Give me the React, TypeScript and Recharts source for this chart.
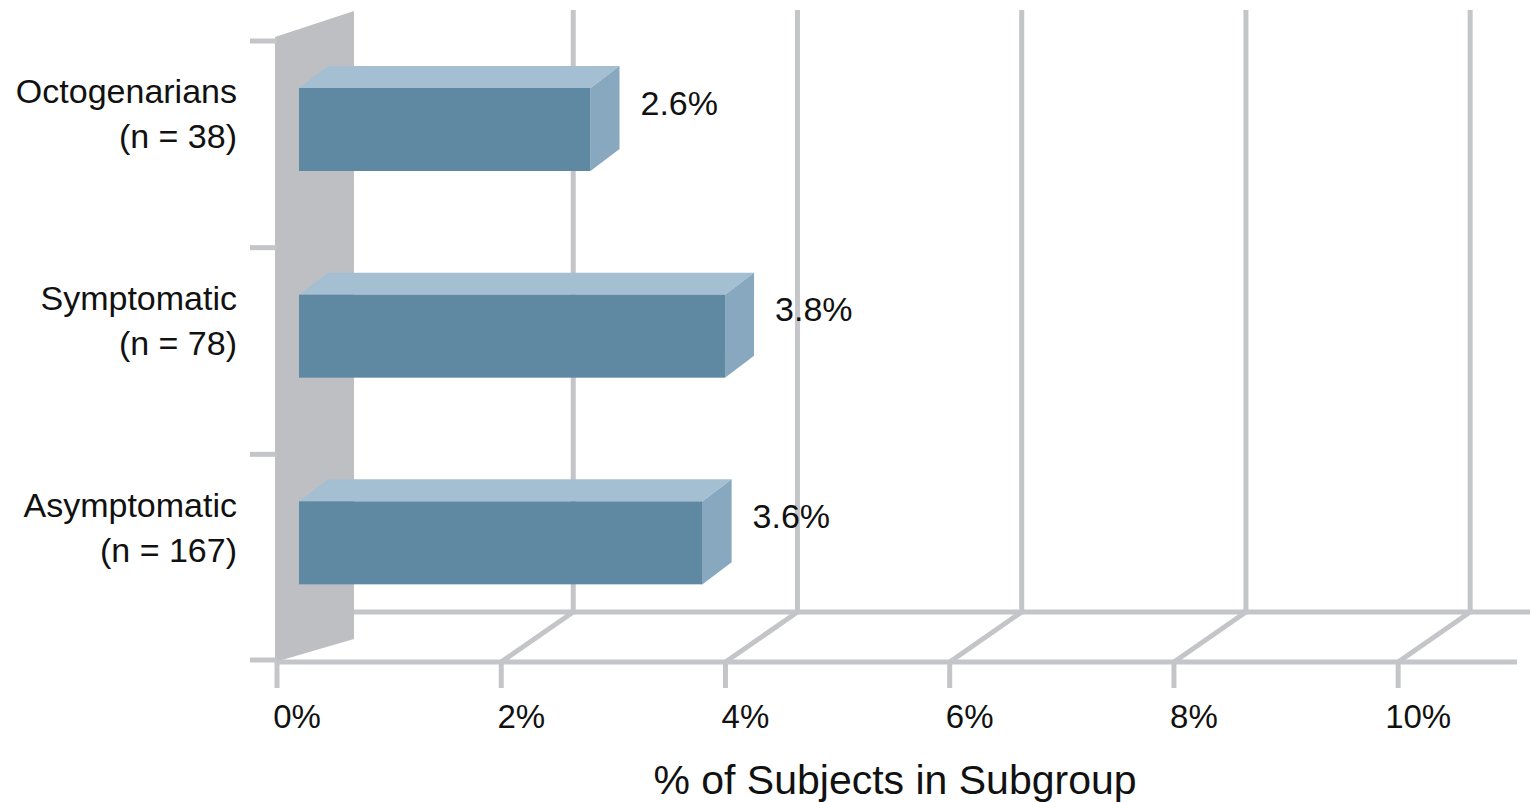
import React from 'react';
import { BarChart, Bar, XAxis, YAxis, CartesianGrid, LabelList } from 'recharts';

const categories = ['Octogenarians', 'Symptomatic', 'Asymptomatic'];
const groupSizes = ['(n = 38)', '(n = 78)', '(n = 167)'];
const pctValues = [2.6, 3.8, 3.6];
const xTicks = [0, 2, 4, 6, 8, 10];

const data = categories.map((name, i) => ({ name, n: groupSizes[i], value: pctValues[i] }));

const FONT = "'Liberation Sans', Arial, sans-serif";
const LINE = '#c4c5c9';
const WALL = '#bebfc3';
const FRONT = '#5f88a2';
const TOP = '#a4bfd1';
const SIDE = '#87a8be';

// bars sit a bit behind the front plane
const BAR_DX = 22;
const BAR_DY = -16;
const DEPTH_X = 29;
const DEPTH_Y = -22;

const Bar3D = (props: any) => {
    const { x, y, width, height } = props;
    const fx = x + BAR_DX;
    const fy = y + BAR_DY;
    const rx = fx + width;
    return (
        <g>
            <polygon
                points={`${fx},${fy} ${fx + DEPTH_X},${fy + DEPTH_Y} ${rx + DEPTH_X},${fy + DEPTH_Y} ${rx},${fy}`}
                fill={TOP}
            />
            <polygon
                points={`${rx},${fy} ${rx + DEPTH_X},${fy + DEPTH_Y} ${rx + DEPTH_X},${fy + height + DEPTH_Y} ${rx},${fy + height}`}
                fill={SIDE}
            />
            <rect x={fx} y={fy} width={width} height={height} fill={FRONT} />
        </g>
    );
};

const gridLine = (props: any) => {
    const { x1, y1, y2, index, x, width } = props;
    if (x1 > x + width - 2) return <g key={`grid-${index}`} />;
    if (x1 <= x + 1) {
        const rows = categories.length;
        return (
            <g key={`grid-${index}`}>
                <line x1={x1 + 77} y1={y2 - 50} x2={x + width + 13} y2={y2 - 50} stroke={LINE} strokeWidth={5} />
                <polygon
                    points={`${x1 - 2},${y1 - 5} ${x1 + 77},${y1 - 31} ${x1 + 77},${y2 - 23} ${x1 - 2},${y2}`}
                    fill={WALL}
                />
                {Array.from({ length: rows + 1 }, (_, k) => {
                    const yy = y1 + (k * (y2 - y1)) / rows - (k === rows ? 2 : 1);
                    return <line key={k} x1={x1 - 27} y1={yy} x2={x1} y2={yy} stroke={LINE} strokeWidth={5} />;
                })}
            </g>
        );
    }
    return (
        <g key={`grid-${index}`}>
            <line x1={x1} y1={y2} x2={x1 + 72} y2={y2 - 50} stroke={LINE} strokeWidth={5} />
            <line x1={x1 + 72} y1={y2 - 48} x2={x1 + 72} y2={y1 - 32} stroke={LINE} strokeWidth={5} />
        </g>
    );
};

const CategoryTick = (props: any) => {
    const { x, y, payload, index } = props;
    return (
        <g>
            <text x={x - 40} y={y - 42} textAnchor="end" fontSize={34} fontFamily={FONT} fill="#111">
                {payload.value}
            </text>
            <text x={x - 40} y={y + 3} textAnchor="end" fontSize={34} fontFamily={FONT} fill="#111">
                {groupSizes[index]}
            </text>
        </g>
    );
};

const PctTick = (props: any) => {
    const { x, y, payload } = props;
    return (
        <text x={x + 20} y={y + 38} textAnchor="middle" fontSize={33} fontFamily={FONT} fill="#111">
            {`${payload.value}%`}
        </text>
    );
};

const ValueLabel = (props: any) => {
    const { x, y, width, height, value } = props;
    return (
        <text
            x={x + width + BAR_DX + DEPTH_X + 21}
            y={y + height / 2 + BAR_DY - 15}
            fontSize={34}
            fontFamily={FONT}
            fill="#111"
        >
            {`${value}%`}
        </text>
    );
};

const AxisTitle = (props: any) => {
    const { viewBox } = props;
    return (
        <text
            x={viewBox.x + viewBox.width / 2 - 2}
            y={viewBox.y + 132}
            textAnchor="middle"
            fontSize={41}
            fontFamily={FONT}
            fill="#111"
        >
            % of Subjects in Subgroup
        </text>
    );
};

export default function App() {
    return (
        <div style={{ width: 1530, height: 802, background: '#fff' }}>
            <style>{'body{margin:0}'}</style>
            <BarChart
                width={1530}
                height={802}
                data={data}
                layout="vertical"
                margin={{ top: 42, right: 13, bottom: 0, left: 0 }}
                barSize={83}
            >
                <CartesianGrid horizontal={false} vertical={gridLine} />
                <XAxis
                    type="number"
                    domain={[0, 11.06]}
                    ticks={xTicks}
                    allowDataOverflow
                    height={140}
                    axisLine={{ stroke: LINE, strokeWidth: 5 }}
                    tickLine={{ stroke: LINE, strokeWidth: 5 }}
                    tickSize={26}
                    tick={<PctTick />}
                    label={<AxisTitle />}
                />
                <YAxis
                    type="category"
                    dataKey="name"
                    width={277}
                    axisLine={false}
                    tickLine={false}
                    tickSize={0}
                    tickMargin={0}
                    tick={<CategoryTick />}
                />
                <Bar dataKey="value" shape={<Bar3D />} isAnimationActive={false}>
                    <LabelList dataKey="value" content={<ValueLabel />} />
                </Bar>
            </BarChart>
        </div>
    );
}
